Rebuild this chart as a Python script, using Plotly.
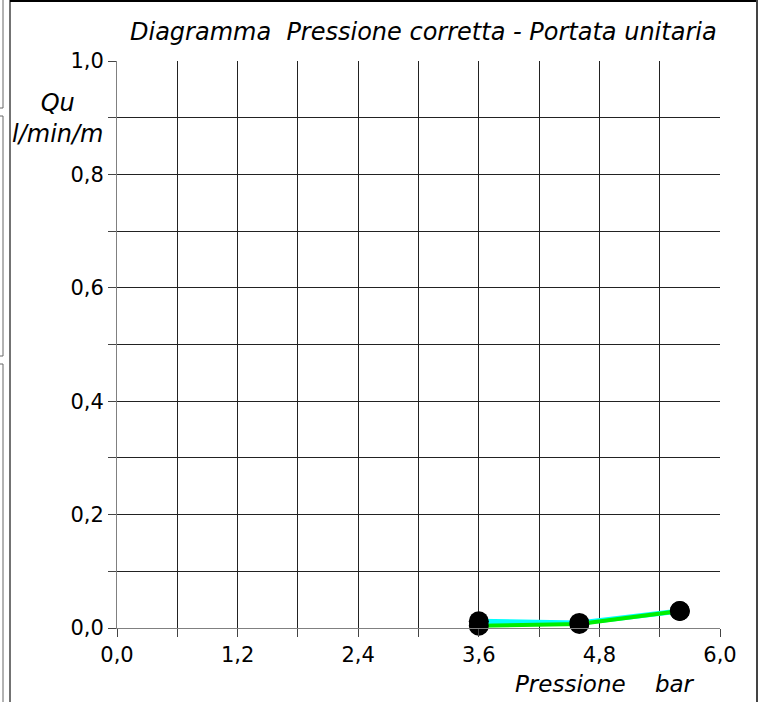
import plotly.graph_objects as go

pressione = [3.6, 4.6, 5.6]
qu_cyan = [0.012, 0.009, 0.030]
qu_green = [0.004, 0.007, 0.030]

title_text = "Diagramma  Pressione corretta - Portata unitaria"
x_title = "Pressione    bar"
y_title = "Qu<br>l/min/m"

FONT = "DejaVu Sans, Liberation Sans, Arial, sans-serif"

L, R, T, B = 117, 40, 61, 74
W, H = 760, 702
PW, PH = W - L - R, H - T - B


def px(p):
    return (p - L) / PW


def py(p):
    return (H - B - p) / PH


fig = go.Figure()
fig.add_trace(go.Scatter(x=pressione, y=qu_cyan, mode="lines+markers",
                         line=dict(color="#00FFFF", width=5),
                         marker=dict(color="black", size=20), cliponaxis=False,
                         showlegend=False))
fig.add_trace(go.Scatter(x=pressione, y=qu_green, mode="lines+markers",
                         line=dict(color="#00EE00", width=4),
                         marker=dict(color="black", size=20), cliponaxis=False,
                         showlegend=False))

fig.update_layout(
    width=W, height=H,
    margin=dict(l=L, r=R, t=T, b=B, autoexpand=False),
    paper_bgcolor="white", plot_bgcolor="white",
    separators=",.",
    font=dict(family=FONT, size=20, color="black"),
    showlegend=False,
)
common = dict(tick0=0, tickformat=".1f", ticks="outside", ticklen=8,
              tickcolor="#444", tickwidth=1, showgrid=True, gridcolor="#222",
              gridwidth=1, showline=True, linecolor="#808080", linewidth=1,
              zeroline=False, tickfont=dict(size=21))
fig.update_xaxes(range=[0, 6], dtick=1.2,
                 minor=dict(dtick=0.6, tick0=0, ticks="outside", ticklen=8,
                            tickcolor="#444", showgrid=True, gridcolor="#222",
                            gridwidth=1), **common)
fig.update_yaxes(range=[0, 1], dtick=0.2,
                 minor=dict(dtick=0.1, tick0=0, ticks="outside", ticklen=8,
                            tickcolor="#444", showgrid=True, gridcolor="#222",
                            gridwidth=1), **common)

fig.add_annotation(text="<i>" + title_text + "</i>", xref="paper", yref="paper",
                   x=px(423), y=py(32), showarrow=False,
                   font=dict(size=24), xanchor="center", yanchor="middle")
fig.add_annotation(text="<i>" + x_title + "</i>", xref="paper", yref="paper",
                   x=px(697), y=py(684), showarrow=False,
                   font=dict(size=23), xanchor="right", yanchor="middle")
fig.add_annotation(text="<i>" + y_title + "</i>", xref="paper", yref="paper",
                   x=px(57), y=py(118), showarrow=False,
                   font=dict(size=24), xanchor="center", yanchor="middle",
                   align="center")

# outer frame lines
frame_l, frame_r = px(10), px(757)
fig.add_shape(type="line", xref="paper", yref="paper", x0=frame_l, x1=frame_l,
              y0=py(702), y1=py(0), line=dict(color="#444", width=1.5))
fig.add_shape(type="line", xref="paper", yref="paper", x0=frame_l, x1=frame_r,
              y0=py(1), y1=py(1), line=dict(color="black", width=2))
fig.add_shape(type="line", xref="paper", yref="paper", x0=frame_r, x1=frame_r,
              y0=py(702), y1=py(0), line=dict(color="#444", width=2))

# left side fragments
for (a, b) in [(0, 108), (116, 356), (364, 702)]:
    fig.add_shape(type="line", xref="paper", yref="paper", x0=px(3), x1=px(3),
                  y0=py(a), y1=py(b), line=dict(color="#666", width=1))
for yv in [108, 116, 356, 364]:
    fig.add_shape(type="line", xref="paper", yref="paper", x0=px(0), x1=px(3),
                  y0=py(yv), y1=py(yv), line=dict(color="#666", width=1))

fig.write_html("out.html", config={"displayModeBar": False},
               post_script="document.body.style.margin='0';"
                           "document.body.style.overflow='hidden';")
